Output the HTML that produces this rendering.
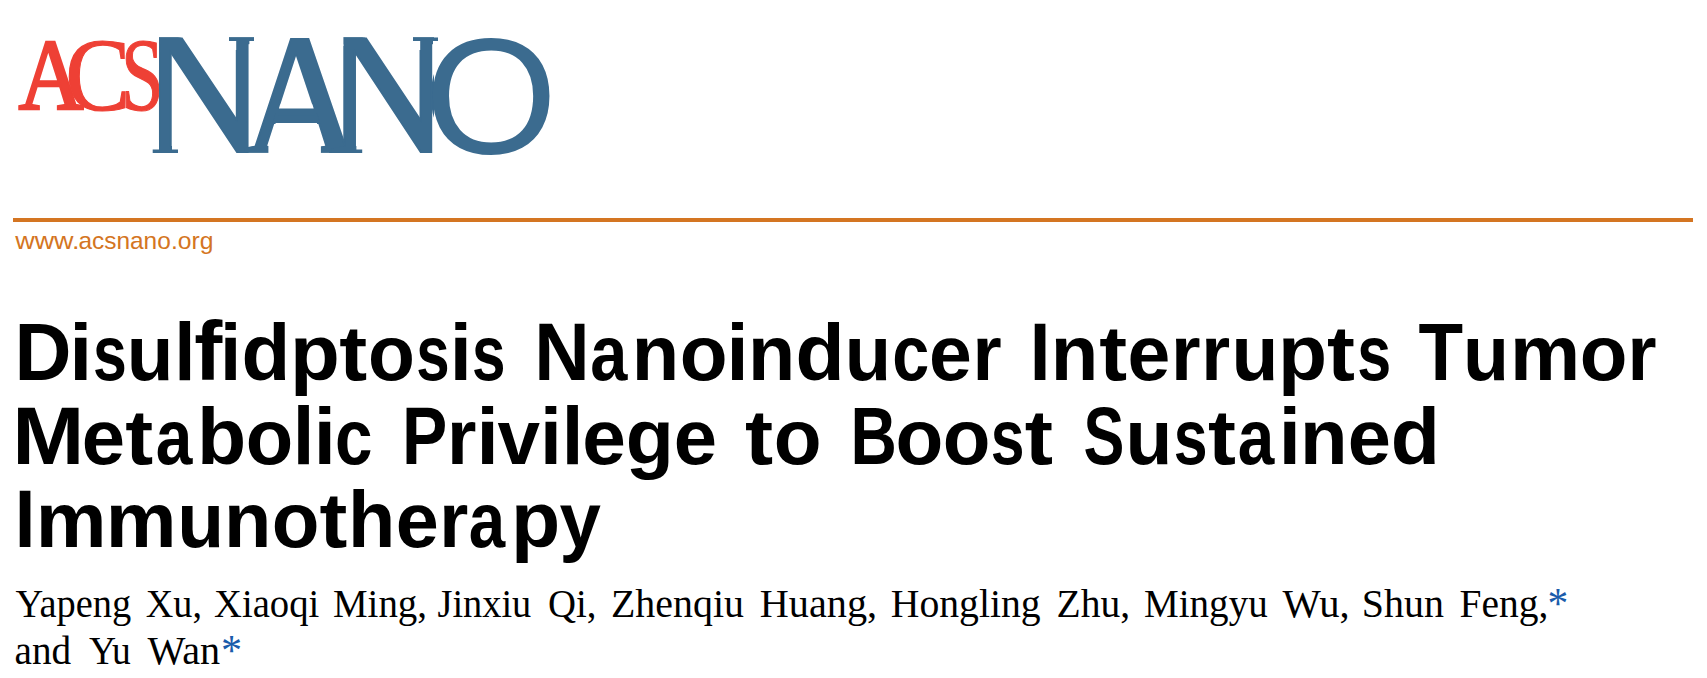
<!DOCTYPE html>
<html lang="en"><head><meta charset="utf-8"><title>Disulfidptosis Nanoinducer Interrupts Tumor Metabolic Privilege to Boost Sustained Immunotherapy | ACS Nano</title>
<style>
html,body{margin:0;padding:0;background:#fff;overflow:hidden}
svg{display:block}
.ti{font-family:"Liberation Sans",sans-serif;font-weight:bold;font-size:78px;fill:#000}
.au{font-family:"Liberation Serif",serif;font-size:40.4px;fill:#000}
.st{fill:#1a5cab;font-size:44.3px}
.url{font-family:"Liberation Sans",sans-serif;font-size:24.8px;fill:#d47522}
</style></head><body>
<svg width="1707" height="678" viewBox="0 0 1707 678">
<rect width="1707" height="678" fill="#fff"/>
<defs>
<filter id="nf" filterUnits="userSpaceOnUse" x="130" y="20" width="440" height="150" color-interpolation-filters="sRGB">
<feOffset in="SourceGraphic" dx="-2" result="l"/>
<feOffset in="SourceGraphic" dx="2" result="r"/>
<feMerge result="d"><feMergeNode in="l"/><feMergeNode in="r"/></feMerge>
<feFlood x="130" y="20" width="303.4" height="150" flood-color="#000" result="m"/>
<feComposite in="d" in2="m" operator="in" result="dm"/>
<feFlood x="262" y="105" width="75" height="8.6" flood-color="#000" result="cm"/>
<feComposite in="SourceGraphic" in2="cm" operator="in" result="cb"/>
<feOffset in="cb" dy="5" result="cb1"/>
<feOffset in="cb" dy="10" result="cb2"/>
<feMerge><feMergeNode in="dm"/><feMergeNode in="cb1"/><feMergeNode in="cb2"/><feMergeNode in="SourceGraphic"/></feMerge>
</filter>
<clipPath id="nc"><path clip-rule="evenodd" d="M130 20H570V170H130Z M130 20H159V70H130Z M130 70H152.7V170H130Z M178 145H195V160H178Z M215 30H229V46H215Z M254 30H270V46H254Z M268.4 145H285V160H268.4Z M305 145H320.9V160H305Z M362.2 145H378V160H362.2Z M325 30H343.4V46H325Z M398 30H413V46H398Z M438 30H452V46H438Z M280.1 104.5L312.5 104.5L313.7 108.6L278.9 108.6Z M152.7 140H159V149.6H152.7Z M172 140H178V149.6H172Z M229 41H236.2V50H229Z M249.4 41H254V50H249.4Z M356.4 140H362.2V149.6H356.4Z M413 41H420.2V50H413Z M433 41H438V50H433Z"/></clipPath>
</defs>
<text y="109.5" fill="#ee4035" ><tspan x="18.62" y="108.8" textLength="65.07" lengthAdjust="spacingAndGlyphs" font-family="Liberation Serif, serif" font-weight="normal" font-size="102.3" stroke="#ee4035" stroke-width="2.5">A</tspan><tspan x="65.23" y="109.5" textLength="65.32" lengthAdjust="spacingAndGlyphs" font-family="Liberation Serif, serif" font-weight="normal" font-size="104" stroke="#ee4035" stroke-width="1.2">C</tspan><tspan x="121.07" y="109.5" textLength="42.75" lengthAdjust="spacingAndGlyphs" font-family="Liberation Serif, serif" font-weight="normal" font-size="104" stroke="#ee4035" stroke-width="1.2">S</tspan></text>
<text y="153" fill="#3b6b8f" filter="url(#nf)" clip-path="url(#nc)"><tspan x="141.76" y="153" textLength="123.04" lengthAdjust="spacingAndGlyphs" font-family="Liberation Serif, serif" font-weight="normal" font-size="176">N</tspan><tspan x="243.33" y="153" textLength="115.37" lengthAdjust="spacingAndGlyphs" font-family="Liberation Serif, serif" font-weight="normal" font-size="174">A</tspan><tspan x="326.30" y="153" textLength="121.97" lengthAdjust="spacingAndGlyphs" font-family="Liberation Serif, serif" font-weight="normal" font-size="176">N</tspan><tspan x="424.75" y="153" textLength="132.85" lengthAdjust="spacingAndGlyphs" font-family="Liberation Sans, sans-serif" font-weight="normal" font-size="165">O</tspan></text>

<rect x="13" y="218" width="1680" height="4" fill="#d47522"/>
<text class="url" y="248.6"><tspan x="15.24" textLength="64.32" lengthAdjust="spacingAndGlyphs">www.</tspan><tspan x="78.52" textLength="92.26" lengthAdjust="spacingAndGlyphs">acsnano</tspan><tspan x="171.01" textLength="42.47" lengthAdjust="spacingAndGlyphs">.org</tspan></text>
<text class="ti" y="380.30"><tspan x="14.42" textLength="56.99" lengthAdjust="spacingAndGlyphs" font-size="82.2">D</tspan><tspan x="69.30" textLength="23.08" lengthAdjust="spacingAndGlyphs" font-size="79.7">i</tspan><tspan x="93.06" textLength="33.83" lengthAdjust="spacingAndGlyphs">s</tspan><tspan x="126.66" textLength="46.68" lengthAdjust="spacingAndGlyphs">u</tspan><tspan x="174.16" textLength="21.26" lengthAdjust="spacingAndGlyphs" font-size="82.1">l</tspan><tspan x="194.26" textLength="28.08" lengthAdjust="spacingAndGlyphs" font-size="83">f</tspan><tspan x="220.06" textLength="21.26" lengthAdjust="spacingAndGlyphs" font-size="79.7">i</tspan><tspan x="241.52" textLength="48.85" lengthAdjust="spacingAndGlyphs" font-size="80">d</tspan><tspan x="290.02" textLength="49.82" lengthAdjust="spacingAndGlyphs">p</tspan><tspan x="339.18" textLength="27.95" lengthAdjust="spacingAndGlyphs" font-size="78.4">t</tspan><tspan x="368.10" textLength="46.90" lengthAdjust="spacingAndGlyphs">o</tspan><tspan x="416.19" textLength="33.37" lengthAdjust="spacingAndGlyphs">s</tspan><tspan x="449.85" textLength="22.07" lengthAdjust="spacingAndGlyphs" font-size="79.7">i</tspan><tspan x="471.98" textLength="33.49" lengthAdjust="spacingAndGlyphs">s</tspan> <tspan x="534.37" textLength="55.40" lengthAdjust="spacingAndGlyphs" font-size="82.2">N</tspan><tspan x="590.14" textLength="37.13" lengthAdjust="spacingAndGlyphs">a</tspan><tspan x="631.78" textLength="47.43" lengthAdjust="spacingAndGlyphs">n</tspan><tspan x="679.74" textLength="47.82" lengthAdjust="spacingAndGlyphs">o</tspan><tspan x="726.45" textLength="22.07" lengthAdjust="spacingAndGlyphs" font-size="79.7">i</tspan><tspan x="748.01" textLength="47.18" lengthAdjust="spacingAndGlyphs">n</tspan><tspan x="795.50" textLength="49.09" lengthAdjust="spacingAndGlyphs" font-size="80">d</tspan><tspan x="844.69" textLength="46.42" lengthAdjust="spacingAndGlyphs">u</tspan><tspan x="892.20" textLength="37.05" lengthAdjust="spacingAndGlyphs">c</tspan><tspan x="928.99" textLength="42.84" lengthAdjust="spacingAndGlyphs">e</tspan><tspan x="972.46" textLength="29.18" lengthAdjust="spacingAndGlyphs">r</tspan> <tspan x="1029.73" textLength="20.64" lengthAdjust="spacingAndGlyphs" font-size="82.2">I</tspan><tspan x="1050.77" textLength="47.56" lengthAdjust="spacingAndGlyphs">n</tspan><tspan x="1099.18" textLength="27.84" lengthAdjust="spacingAndGlyphs" font-size="78.4">t</tspan><tspan x="1127.59" textLength="42.84" lengthAdjust="spacingAndGlyphs">e</tspan><tspan x="1171.09" textLength="29.56" lengthAdjust="spacingAndGlyphs">r</tspan><tspan x="1201.30" textLength="28.92" lengthAdjust="spacingAndGlyphs">r</tspan><tspan x="1231.44" textLength="46.93" lengthAdjust="spacingAndGlyphs">u</tspan><tspan x="1278.10" textLength="49.09" lengthAdjust="spacingAndGlyphs">p</tspan><tspan x="1327.08" textLength="27.95" lengthAdjust="spacingAndGlyphs" font-size="78.4">t</tspan><tspan x="1357.15" textLength="33.95" lengthAdjust="spacingAndGlyphs">s</tspan> <tspan x="1418.58" textLength="44.60" lengthAdjust="spacingAndGlyphs" font-size="82.2">T</tspan><tspan x="1462.93" textLength="46.04" lengthAdjust="spacingAndGlyphs">u</tspan><tspan x="1510.00" textLength="70.20" lengthAdjust="spacingAndGlyphs">m</tspan><tspan x="1579.75" textLength="47.70" lengthAdjust="spacingAndGlyphs">o</tspan><tspan x="1627.48" textLength="29.05" lengthAdjust="spacingAndGlyphs">r</tspan></text>
<text class="ti" y="463.90"><tspan x="12.21" textLength="72.08" lengthAdjust="spacingAndGlyphs" font-size="82.2">M</tspan><tspan x="81.76" textLength="43.30" lengthAdjust="spacingAndGlyphs">e</tspan><tspan x="125.38" textLength="27.95" lengthAdjust="spacingAndGlyphs" font-size="78.4">t</tspan><tspan x="155.87" textLength="36.61" lengthAdjust="spacingAndGlyphs">a</tspan><tspan x="197.09" textLength="49.22" lengthAdjust="spacingAndGlyphs" font-size="80">b</tspan><tspan x="245.66" textLength="47.47" lengthAdjust="spacingAndGlyphs">o</tspan><tspan x="292.65" textLength="21.67" lengthAdjust="spacingAndGlyphs" font-size="82.1">l</tspan><tspan x="313.75" textLength="22.07" lengthAdjust="spacingAndGlyphs" font-size="79.7">i</tspan><tspan x="335.07" textLength="37.51" lengthAdjust="spacingAndGlyphs">c</tspan> <tspan x="402.06" textLength="45.26" lengthAdjust="spacingAndGlyphs" font-size="82.2">P</tspan><tspan x="447.12" textLength="29.43" lengthAdjust="spacingAndGlyphs">r</tspan><tspan x="476.40" textLength="22.27" lengthAdjust="spacingAndGlyphs" font-size="79.7">i</tspan><tspan x="497.60" textLength="42.53" lengthAdjust="spacingAndGlyphs">v</tspan><tspan x="540.00" textLength="21.87" lengthAdjust="spacingAndGlyphs" font-size="79.7">i</tspan><tspan x="561.85" textLength="21.67" lengthAdjust="spacingAndGlyphs" font-size="82.1">l</tspan><tspan x="582.13" textLength="43.65" lengthAdjust="spacingAndGlyphs">e</tspan><tspan x="625.87" textLength="48.10" lengthAdjust="spacingAndGlyphs">g</tspan><tspan x="673.66" textLength="43.30" lengthAdjust="spacingAndGlyphs">e</tspan> <tspan x="744.97" textLength="28.16" lengthAdjust="spacingAndGlyphs" font-size="78.4">t</tspan><tspan x="773.74" textLength="47.82" lengthAdjust="spacingAndGlyphs">o</tspan> <tspan x="850.61" textLength="46.30" lengthAdjust="spacingAndGlyphs" font-size="82.2">B</tspan><tspan x="895.64" textLength="47.82" lengthAdjust="spacingAndGlyphs">o</tspan><tspan x="942.65" textLength="47.70" lengthAdjust="spacingAndGlyphs">o</tspan><tspan x="990.87" textLength="33.72" lengthAdjust="spacingAndGlyphs">s</tspan><tspan x="1024.86" textLength="28.27" lengthAdjust="spacingAndGlyphs" font-size="78.4">t</tspan> <tspan x="1083.44" textLength="40.86" lengthAdjust="spacingAndGlyphs" font-size="82.2">S</tspan><tspan x="1125.54" textLength="46.93" lengthAdjust="spacingAndGlyphs">u</tspan><tspan x="1173.76" textLength="33.83" lengthAdjust="spacingAndGlyphs">s</tspan><tspan x="1208.08" textLength="27.95" lengthAdjust="spacingAndGlyphs" font-size="78.4">t</tspan><tspan x="1237.68" textLength="36.51" lengthAdjust="spacingAndGlyphs">a</tspan><tspan x="1278.75" textLength="22.07" lengthAdjust="spacingAndGlyphs" font-size="79.7">i</tspan><tspan x="1300.07" textLength="47.56" lengthAdjust="spacingAndGlyphs">n</tspan><tspan x="1347.77" textLength="43.19" lengthAdjust="spacingAndGlyphs">e</tspan><tspan x="1390.70" textLength="49.22" lengthAdjust="spacingAndGlyphs" font-size="80">d</tspan></text>
<text class="ti" y="547.30"><tspan x="14.73" textLength="20.64" lengthAdjust="spacingAndGlyphs" font-size="82.2">I</tspan><tspan x="35.65" textLength="70.78" lengthAdjust="spacingAndGlyphs">m</tspan><tspan x="105.75" textLength="70.78" lengthAdjust="spacingAndGlyphs">m</tspan><tspan x="177.24" textLength="46.93" lengthAdjust="spacingAndGlyphs">u</tspan><tspan x="223.99" textLength="47.31" lengthAdjust="spacingAndGlyphs">n</tspan><tspan x="271.65" textLength="47.70" lengthAdjust="spacingAndGlyphs">o</tspan><tspan x="319.48" textLength="27.84" lengthAdjust="spacingAndGlyphs" font-size="78.4">t</tspan><tspan x="348.09" textLength="47.31" lengthAdjust="spacingAndGlyphs" font-size="80">h</tspan><tspan x="395.87" textLength="43.07" lengthAdjust="spacingAndGlyphs">e</tspan><tspan x="439.28" textLength="29.05" lengthAdjust="spacingAndGlyphs">r</tspan><tspan x="468.68" textLength="36.40" lengthAdjust="spacingAndGlyphs">a</tspan><tspan x="511.09" textLength="49.22" lengthAdjust="spacingAndGlyphs">p</tspan><tspan x="559.42" textLength="41.38" lengthAdjust="spacingAndGlyphs">y</tspan></text>
<text class="au" y="617.30"><tspan x="15.50" textLength="115.69" lengthAdjust="spacingAndGlyphs">Yapeng</tspan> <tspan x="145.75" textLength="56.23" lengthAdjust="spacingAndGlyphs">Xu,</tspan> <tspan x="214.00" textLength="105.21" lengthAdjust="spacingAndGlyphs">Xiaoqi</tspan> <tspan x="333.04" textLength="93.98" lengthAdjust="spacingAndGlyphs">Ming,</tspan> <tspan x="437.50" textLength="93.69" lengthAdjust="spacingAndGlyphs">Jinxiu</tspan> <tspan x="548.04" textLength="48.47" lengthAdjust="spacingAndGlyphs">Qi,</tspan> <tspan x="611.01" textLength="132.93" lengthAdjust="spacingAndGlyphs">Zhenqiu</tspan> <tspan x="759.75" textLength="117.34" lengthAdjust="spacingAndGlyphs">Huang,</tspan> <tspan x="890.77" textLength="149.92" lengthAdjust="spacingAndGlyphs">Hongling</tspan> <tspan x="1056.52" textLength="73.53" lengthAdjust="spacingAndGlyphs">Zhu,</tspan> <tspan x="1144.03" textLength="123.66" lengthAdjust="spacingAndGlyphs">Mingyu</tspan> <tspan x="1282.50" textLength="67.11" lengthAdjust="spacingAndGlyphs">Wu,</tspan> <tspan x="1361.77" textLength="82.17" lengthAdjust="spacingAndGlyphs">Shun</tspan> <tspan x="1459.52" textLength="88.78" lengthAdjust="spacingAndGlyphs">Feng,</tspan><tspan class="st" x="1547.47" y="618.20" textLength="20.77" lengthAdjust="spacingAndGlyphs">*</tspan></text>
<text class="au" y="663.80"><tspan x="14.53" textLength="56.66" lengthAdjust="spacingAndGlyphs">and</tspan> <tspan x="89.00" textLength="41.68" lengthAdjust="spacingAndGlyphs">Yu</tspan> <tspan x="147.50" textLength="72.69" lengthAdjust="spacingAndGlyphs">Wan</tspan><tspan class="st" x="220.94" y="664.70" textLength="21.08" lengthAdjust="spacingAndGlyphs">*</tspan></text>
</svg>
</body></html>
